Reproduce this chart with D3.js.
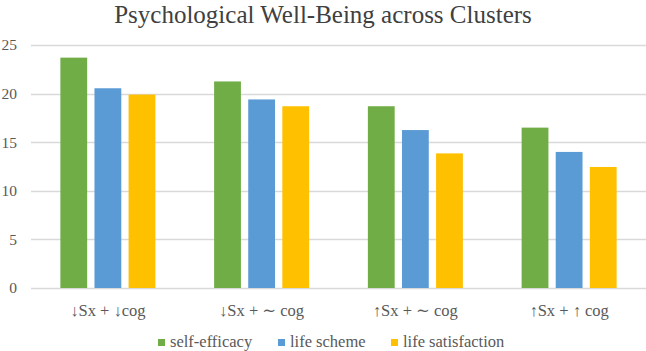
<!DOCTYPE html>
<html>
<head>
<meta charset="utf-8">
<script src="https://cdn.jsdelivr.net/npm/d3@7"></script>
<style>
  body { margin: 0; background: #fff; }
</style>
</head>
<body>
<div id="chart"></div>
<script>
// data
var clusters = ["↓Sx + ↓cog", "↓Sx + ∼ cog", "↑Sx + ∼ cog", "↑Sx + ↑ cog"];
var seriesNames = ["self-efficacy", "life scheme", "life satisfaction"];
var selfEfficacy = [23.7, 21.25, 18.7, 16.5];
var lifeScheme = [20.55, 19.4, 16.25, 14.0];
var lifeSatisfaction = [19.9, 18.7, 13.85, 12.45];
var yTicks = [0, 5, 10, 15, 20, 25];
var colors = ["#70AD47", "#5B9BD5", "#FFC000"];

var values = [selfEfficacy, lifeScheme, lifeSatisfaction];

var width = 646, height = 351;
var margin = { top: 45, right: 0, bottom: 63, left: 31 };
var serif = "'Liberation Serif', 'Times New Roman', 'DejaVu Serif', serif";

var svg = d3.select("#chart")
    .append("svg")
    .attr("width", width)
    .attr("height", height)
    .attr("font-family", serif);

var x0 = d3.scaleBand()
    .domain(clusters)
    .range([margin.left, width - margin.right])
    .paddingInner(0.382)
    .paddingOuter(0.191);

var x1 = d3.scaleBand()
    .domain(seriesNames)
    .range([0, x0.bandwidth()])
    .paddingInner(0.214);

var y = d3.scaleLinear()
    .domain([0, 25])
    .range([height - margin.bottom, margin.top]);

// title
svg.append("text")
    .attr("x", 323)
    .attr("y", 23)
    .attr("text-anchor", "middle")
    .attr("font-family", serif)
    .attr("font-size", "25px")
    .attr("fill", "#404040")
    .text("Psychological Well-Being across Clusters");

// gridlines
svg.append("g")
    .selectAll("line")
    .data(yTicks)
    .enter().append("line")
    .attr("x1", margin.left)
    .attr("x2", width - margin.right)
    .attr("y1", function (d) { return Math.round(y(d)) + 0.5; })
    .attr("y2", function (d) { return Math.round(y(d)) + 0.5; })
    .attr("stroke", "#d9d9d9")
    .attr("stroke-width", 1.3);

// y labels
svg.append("g")
    .selectAll("text")
    .data(yTicks)
    .enter().append("text")
    .attr("x", 17)
    .attr("y", function (d) { return y(d); })
    .attr("dy", "0.35em")
    .attr("text-anchor", "end")
    .attr("font-family", serif)
    .attr("font-size", "15.5px")
    .attr("fill", "#595959")
    .text(function (d) { return d; });

// bars
var groups = svg.append("g")
    .selectAll("g")
    .data(seriesNames)
    .enter().append("g")
    .attr("fill", function (d, i) { return colors[i]; });

groups.selectAll("rect")
    .data(function (d, i) {
        return clusters.map(function (c, j) {
            return { cluster: c, series: d, value: values[i][j] };
        });
    })
    .enter().append("rect")
    .attr("x", function (d) { return x0(d.cluster) + x1(d.series); })
    .attr("y", function (d) { return y(d.value); })
    .attr("width", x1.bandwidth())
    .attr("height", function (d) { return y(0) - y(d.value); });

// x labels
svg.append("g")
    .selectAll("text")
    .data(clusters)
    .enter().append("text")
    .attr("x", function (d) { return x0(d) + x0.bandwidth() / 2; })
    .attr("y", 316)
    .attr("text-anchor", "middle")
    .attr("font-family", serif)
    .attr("font-size", "16.5px")
    .attr("fill", "#595959")
    .text(function (d) { return d; });

// legend
var legendX = [158, 278, 391];
var legend = svg.append("g")
    .selectAll("g")
    .data(seriesNames)
    .enter().append("g")
    .attr("transform", function (d, i) { return "translate(" + legendX[i] + ",339)"; });

legend.append("rect")
    .attr("width", 7)
    .attr("height", 7)
    .attr("fill", function (d, i) { return colors[i]; });

legend.append("text")
    .attr("x", 12)
    .attr("y", 7.5)
    .attr("font-family", serif)
    .attr("font-size", "16.5px")
    .attr("fill", "#595959")
    .text(function (d) { return d; });
</script>
</body>
</html>
